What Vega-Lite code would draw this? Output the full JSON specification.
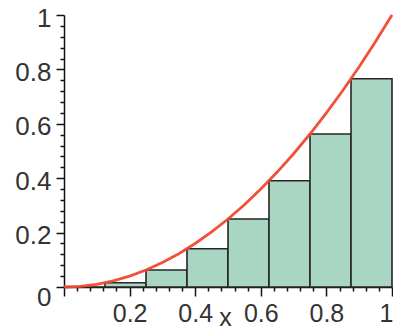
{
  "$schema": "https://vega.github.io/schema/vega-lite/v6.json",
  "width": 328,
  "height": 272,
  "autosize": "none",
  "padding": {"left": 64, "right": 1, "top": 15, "bottom": 42},
  "background": "white",
  "config": {"view": {"stroke": null}, "axis": {"grid": false}},
  "datasets": {
    "bars": [
      {"x": 0, "xe": 0.125, "y": 0},
      {"x": 0.125, "xe": 0.25, "y": 0.015625},
      {"x": 0.25, "xe": 0.375, "y": 0.0625},
      {"x": 0.375, "xe": 0.5, "y": 0.140625},
      {"x": 0.5, "xe": 0.625, "y": 0.25},
      {"x": 0.625, "xe": 0.75, "y": 0.390625},
      {"x": 0.75, "xe": 0.875, "y": 0.5625},
      {"x": 0.875, "xe": 1, "y": 0.765625}
    ],
    "curve": [
      {"x": 0, "y": 0}, {"x": 0.05, "y": 0.0025}, {"x": 0.1, "y": 0.01}, {"x": 0.15, "y": 0.0225},
      {"x": 0.2, "y": 0.04}, {"x": 0.25, "y": 0.0625}, {"x": 0.3, "y": 0.09}, {"x": 0.35, "y": 0.1225},
      {"x": 0.4, "y": 0.16}, {"x": 0.45, "y": 0.2025}, {"x": 0.5, "y": 0.25}, {"x": 0.55, "y": 0.3025},
      {"x": 0.6, "y": 0.36}, {"x": 0.65, "y": 0.4225}, {"x": 0.7, "y": 0.49}, {"x": 0.75, "y": 0.5625},
      {"x": 0.8, "y": 0.64}, {"x": 0.85, "y": 0.7225}, {"x": 0.9, "y": 0.81}, {"x": 0.95, "y": 0.9025},
      {"x": 1, "y": 1}
    ]
  },
  "encoding": {
    "x": {
      "field": "x", "type": "quantitative",
      "scale": {"domain": [0, 1], "nice": false, "zero": false},
      "axis": {
        "orient": "bottom",
        "values": [0, 0.04, 0.08, 0.12, 0.16, 0.2, 0.24, 0.28, 0.32, 0.36, 0.4, 0.44, 0.48, 0.52, 0.56, 0.6, 0.64, 0.68, 0.72, 0.76, 0.8, 0.84, 0.88, 0.92, 0.96, 1],
        "format": "~g",
        "labelExpr": "(datum.value > 0.001 && abs(datum.value*5 - round(datum.value*5)) < 0.001) ? datum.label : ''",
        "labelOverlap": false,
        "labelFlush": false,
        "labelAlign": {"condition": {"test": "datum.value > 0.99", "value": "right"}, "value": "center"},
        "labelOffset": {"condition": {"test": "datum.value > 0.99", "value": 1}, "value": 0},
        "tickSize": {"condition": {"test": "abs(datum.value*5 - round(datum.value*5)) < 0.001", "value": 9}, "value": 4},
        "tickColor": "#111",
        "tickWidth": 1.5,
        "domainColor": "#111",
        "domainWidth": 1.5,
        "labelFont": "Liberation Sans",
        "labelFontSize": 25,
        "labelColor": "#333",
        "labelPadding": 5,
        "title": "x",
        "titleFont": "Liberation Sans",
        "titleFontSize": 25,
        "titleFontWeight": "normal",
        "titleColor": "#333",
        "titleX": 161,
        "titleY": 38,
        "titleAlign": "center",
        "titleBaseline": "alphabetic"
      }
    },
    "y": {
      "field": "y", "type": "quantitative",
      "scale": {"domain": [0, 1], "nice": false, "zero": false},
      "axis": {
        "orient": "left",
        "values": [0, 0.04, 0.08, 0.12, 0.16, 0.2, 0.24, 0.28, 0.32, 0.36, 0.4, 0.44, 0.48, 0.52, 0.56, 0.6, 0.64, 0.68, 0.72, 0.76, 0.8, 0.84, 0.88, 0.92, 0.96, 1],
        "format": "~g",
        "labelExpr": "abs(datum.value*5 - round(datum.value*5)) < 0.001 ? datum.label : ''",
        "labelOverlap": false,
        "labelFlush": false,
        "tickSize": {"condition": {"test": "abs(datum.value*5 - round(datum.value*5)) < 0.001", "value": 8}, "value": 4},
        "labelOffset": {"condition": {"test": "datum.value < 0.001", "value": 10}, "value": 3},
        "tickColor": "#111",
        "tickWidth": 1.5,
        "domainColor": "#111",
        "domainWidth": 1.5,
        "labelFont": "Liberation Sans",
        "labelFontSize": 26,
        "labelColor": "#333",
        "labelPadding": 5,
        "title": null
      }
    }
  },
  "layer": [
    {
      "data": {"name": "bars"},
      "mark": {"type": "rect", "fill": "#a9d6c2", "stroke": "#262626", "strokeWidth": 1.6},
      "encoding": {
        "x2": {"field": "xe"},
        "y2": {"datum": 0}
      }
    },
    {
      "data": {"name": "curve"},
      "mark": {"type": "line", "color": "#f04830", "strokeWidth": 2.8, "opacity": 0.95}
    }
  ]
}
